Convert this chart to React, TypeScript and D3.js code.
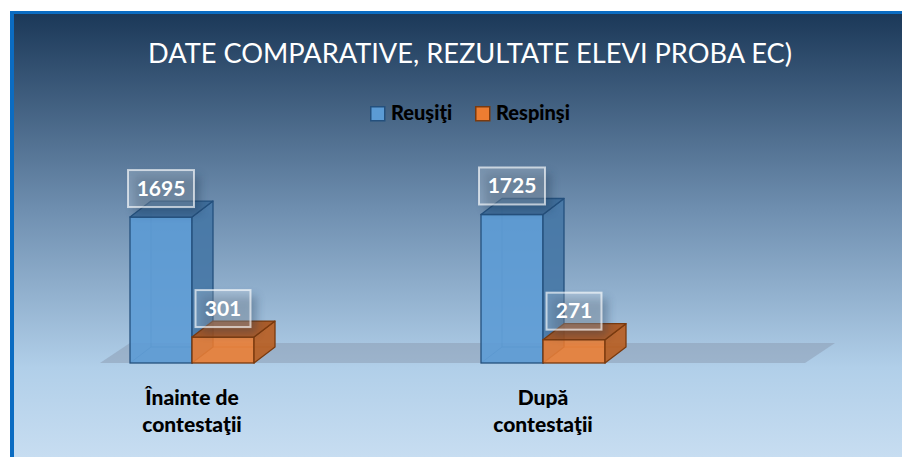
import * as d3 from "d3";

// chart values
const categories = ["Înainte de contestaţii", "După contestaţii"];
const categoryLines = [
  ["Înainte de", "contestaţii"],
  ["După", "contestaţii"],
];
const seriesNames = ["Reuşiţi", "Respinşi"];
const reusiti = [1695, 1725];
const respinsi = [301, 271];

const title = "DATE COMPARATIVE, REZULTATE ELEVI PROBA EC)";

const palette: Record<string, { front: string; side: string; top: string; edge: string }> = {
  Reuşiţi: { front: "#5b9bd5", side: "#4677a6", top: "#3c6a98", edge: "#24507d" },
  Respinşi: { front: "#ed7d31", side: "#b85e22", top: "#a9541c", edge: "#7a3a0e" },
};

export default function App() {
  const width = 902;
  const height = 457;
  const font = "Lato, 'Open Sans', sans-serif";

  const baseY = 363;
  const depthX = 21;
  const depthY = 16;

  const x = d3.scaleBand<string>().domain(categories).range([16.5, 718.5]).padding(0);
  const xSeries = d3.scaleBand<string>().domain(seriesNames).range([-62, 62]).padding(0);
  const y = d3.scaleLinear().domain([0, 2000]).range([baseY, baseY - 172.2]);

  const bars = categories.flatMap((c, i) =>
    seriesNames.map((s, j) => ({
      category: c,
      series: s,
      value: j === 0 ? reusiti[i] : respinsi[i],
    })),
  );

  return (
    <div style={{ position: "absolute", left: 0, top: 0 }}>
      <svg width={width} height={height} style={{ display: "block" }}>
        <defs>
          <linearGradient id="bg" x1="0" y1="0" x2="0" y2="1">
            <stop offset="0%" stopColor="#1b3858" />
            <stop offset="45%" stopColor="#7090b1" />
            <stop offset="80%" stopColor="#b1cfe9" />
            <stop offset="100%" stopColor="#c7ddf1" />
          </linearGradient>
          <filter id="shadow" x="-40%" y="-40%" width="180%" height="180%">
            <feGaussianBlur stdDeviation="5" />
          </filter>
        </defs>

        <rect x={0} y={0} width={width} height={height} fill="#ffffff" />
        <rect x={14} y={13} width={width - 14} height={height - 13} fill="url(#bg)" />
        <rect x={10} y={11} width={width - 10} height={3} fill="#0b6cc2" />
        <rect x={10} y={11} width={4} height={height - 11} fill="#0b6cc2" />

        <text
          x={470}
          y={63}
          textAnchor="middle"
          fontFamily={font}
          fontSize={26}
          fill="#ffffff"
          textLength={644}
          lengthAdjust="spacingAndGlyphs"
        >
          {title}
        </text>

        {/* legend */}
        {seriesNames.map((s, i) => {
          const lx = i === 0 ? 370 : 475;
          return (
            <g key={s} transform={`translate(${lx},106)`}>
              <rect x={0.75} y={0.75} width={14} height={14} fill={palette[s].front} stroke={palette[s].edge} strokeWidth={1.5} />
              <text
                x={21}
                y={14}
                fontFamily={font}
                fontWeight={900}
                fontSize={20}
                fill="#000000"
              >
                {s}
              </text>
            </g>
          );
        })}

        {/* floor */}
        <path
          d={`M100,${baseY} L805,${baseY} L835,${baseY - 20} L130,${baseY - 20} Z`}
          fill="#8a9ab0"
          opacity={0.5}
        />

        {/* bars */}
        {bars.map((d) => {
          const c = palette[d.series];
          const x0 = (x(d.category) ?? 0) + x.bandwidth() / 2 + (xSeries(d.series) ?? 0);
          const w = xSeries.bandwidth();
          const yt = y(d.value);
          const yb = baseY;
          return (
            <g key={d.category + d.series}>
              {/* back edges seen through */}
              <path
                d={`M${x0 + depthX},${yt - depthY} L${x0 + depthX},${yb - depthY} L${x0 + w + depthX},${yb - depthY} M${x0},${yb} L${x0 + depthX},${yb - depthY}`}
                fill="none"
                stroke={c.edge}
                strokeOpacity={0.45}
              />
              <rect x={x0} y={yt} width={w} height={yb - yt} fill={c.front} fillOpacity={0.88} stroke={c.edge} strokeWidth={1.3} />
              <path
                d={`M${x0 + w},${yt} L${x0 + w + depthX},${yt - depthY} L${x0 + w + depthX},${yb - depthY} L${x0 + w},${yb} Z`}
                fill={c.side}
                fillOpacity={0.92}
                stroke={c.edge}
                strokeWidth={1.3}
                strokeLinejoin="round"
              />
              <path
                d={`M${x0},${yt} L${x0 + depthX},${yt - depthY} L${x0 + w + depthX},${yt - depthY} L${x0 + w},${yt} Z`}
                fill={c.top}
                fillOpacity={0.92}
                stroke={c.edge}
                strokeWidth={1.3}
                strokeLinejoin="round"
              />
            </g>
          );
        })}

        {/* value labels */}
        {bars.map((d) => {
          const x0 = (x(d.category) ?? 0) + x.bandwidth() / 2 + (xSeries(d.series) ?? 0);
          const cx = x0 + xSeries.bandwidth() / 2;
          const label = String(d.value);
          const bw = label.length * 11 + 22;
          const bh = 37;
          const by = y(d.value) - 10 - bh;
          return (
            <g key={"lbl" + d.category + d.series}>
              <rect
                x={cx - bw / 2 + 6}
                y={by + 6}
                width={bw}
                height={bh}
                fill="#1d3550"
                opacity={0.35}
                filter="url(#shadow)"
              />
              <rect
                x={cx - bw / 2}
                y={by}
                width={bw}
                height={bh}
                fill="#ffffff"
                fillOpacity={0.18}
                stroke="#ffffff"
                strokeOpacity={0.65}
                strokeWidth={2}
              />
              <text
                x={cx}
                y={by + bh / 2 + 7}
                textAnchor="middle"
                fontFamily={font}
                fontWeight={700}
                fontSize={21}
                fill="#ffffff"
              >
                {label}
              </text>
            </g>
          );
        })}

        {/* category labels */}
        {categories.map((c, i) => {
          const cx = (x(c) ?? 0) + x.bandwidth() / 2;
          return (
            <text
              key={c}
              x={cx}
              textAnchor="middle"
              fontFamily={font}
              fontWeight={900}
              fontSize={21}
              fill="#000000"
            >
              {categoryLines[i].map((line, k) => (
                <tspan key={k} x={cx} y={405 + k * 27}>
                  {line}
                </tspan>
              ))}
            </text>
          );
        })}
      </svg>
    </div>
  );
}
